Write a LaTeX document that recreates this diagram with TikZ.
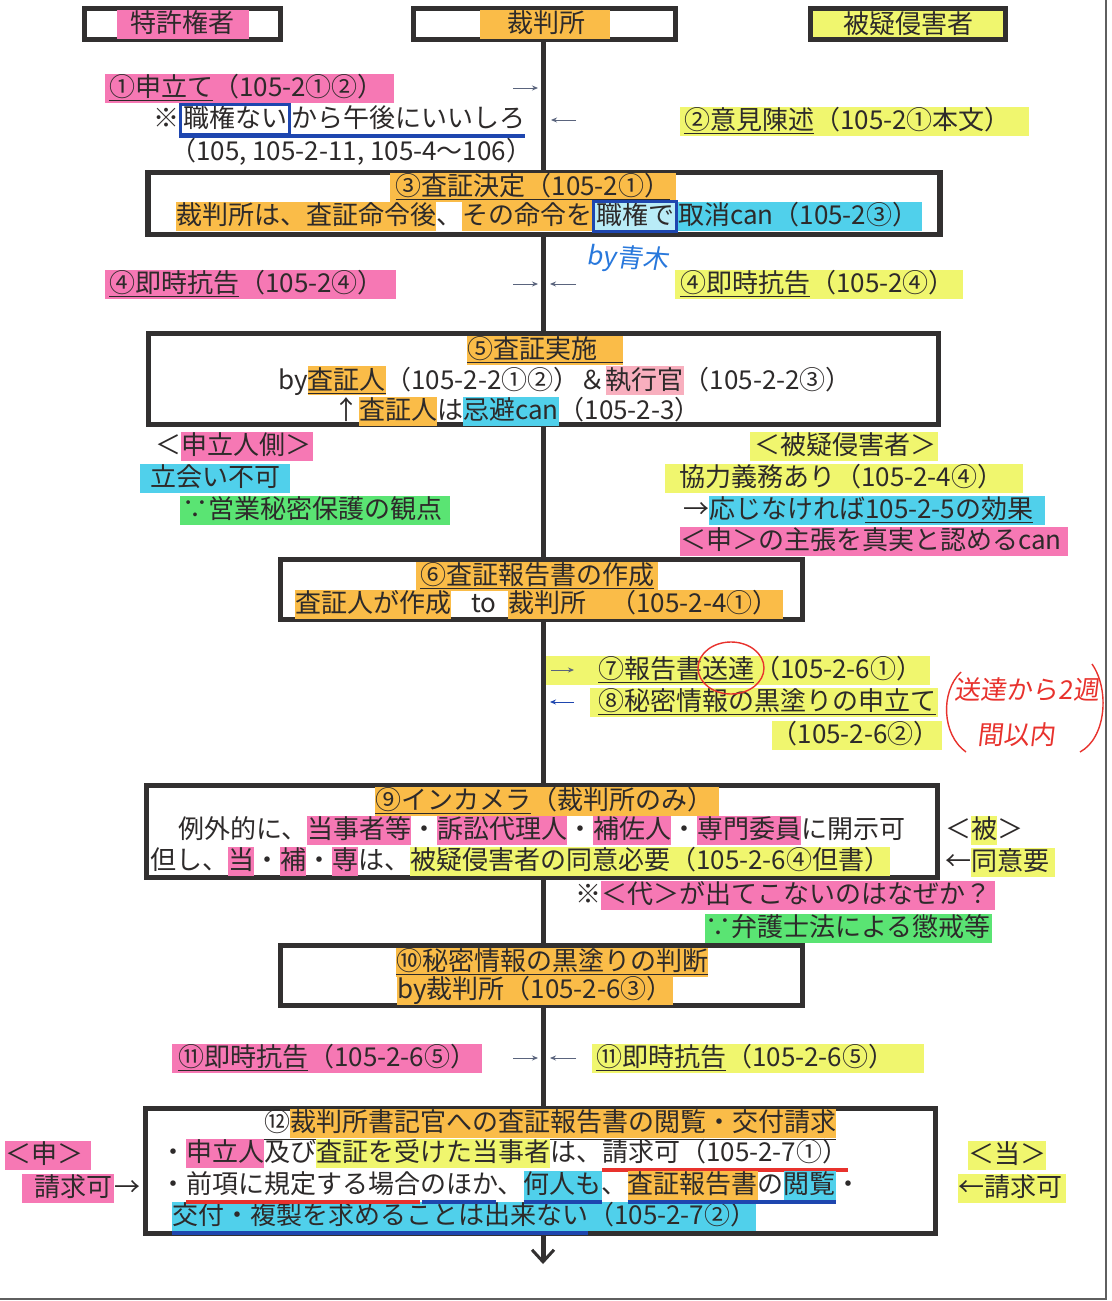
\documentclass[tikz,border=0pt]{standalone}
\usepackage{fontspec}
\setmainfont{Noto Sans CJK JP}
\newfontfamily\handfont[FakeSlant=0.12]{Noto Sans CJK JP}
\usetikzlibrary{arrows.meta}
\definecolor{ink}{RGB}{45,42,42}
\definecolor{boxc}{RGB}{50,48,48}
\definecolor{hlpink}{RGB}{246,120,180}
\definecolor{hlpinkl}{RGB}{248,175,190}
\definecolor{hlorange}{RGB}{250,188,72}
\definecolor{hlyellow}{RGB}{240,246,110}
\definecolor{hlcyan}{RGB}{80,208,235}
\definecolor{hlgreen}{RGB}{90,228,115}
\definecolor{penblue}{RGB}{30,70,175}
\definecolor{penred}{RGB}{232,50,45}
\definecolor{handblue}{RGB}{40,120,220}
\definecolor{tickc}{RGB}{90,100,125}
\definecolor{framec}{RGB}{95,95,95}
\newsavebox\myubox
\newcommand\myfs{\fontsize{26}{30}\selectfont}
\newcommand\myhfs{\handfont\fontsize{26}{30}\selectfont}
\newcommand\hlt[2]{{\setlength\fboxsep{0pt}\colorbox{#1}{\rule[-6pt]{0pt}{29pt}#2}}}
\newcommand\penu[2]{{\sbox\myubox{#2}\rlap{\textcolor{#1}{\rule[-10pt]{\wd\myubox}{3.5pt}}}\usebox\myubox}}
\newcommand\penbox[2][white]{{\setlength\fboxrule{3pt}\setlength\fboxsep{0pt}\color{penblue}\fbox{\colorbox{#1}{\rule[-5pt]{0pt}{27pt}\hspace{1pt}\color{ink}#2\hspace{1pt}}}}}
\begin{document}
\begin{tikzpicture}[x=1pt,y=-1pt,
  box/.style={draw=boxc,line width=5.5pt,inner sep=0pt,fill=white,text=ink,font=\myfs},
  lt/.style={anchor=west,inner sep=0pt,text=ink,font=\myfs},
  rt/.style={anchor=east,inner sep=0pt,text=ink,font=\myfs},
  ct/.style={inner sep=0pt,text=ink,font=\myfs},
  spine/.style={draw=boxc,line width=5pt},
  tick/.style={draw=tickc,line width=0.9pt,-{Stealth[length=6pt,width=5pt]}},
  redpen/.style={draw=penred,line width=1.4pt},
  bluemark/.style={draw=penblue,line width=3.5pt},
  hand/.style={inner sep=0pt,font=\myhfs}]
\fill[white] (0,0) rectangle (1111,1301);
\useasboundingbox (0,0) rectangle (1111,1301);
\draw[framec,line width=1.5pt] (1106,0) -- (1106,1299) -- (0,1299);
\coordinate (sx) at (543,0);

% top boxes
\node[box,minimum width=196pt,minimum height=31pt] (A) at (182.5,24) {\hlt{hlpink}{\hspace{14pt}特許権者\hspace{14pt}}};
\node[box,minimum width=262pt,minimum height=31pt] (B) at (544.5,24) {\hlt{hlorange}{\hspace{28pt}裁判所\hspace{24pt}}};
\node[box,minimum width=195pt,minimum height=31pt,fill=hlyellow] (C) at (908,24) {被疑侵害者};

% row 1-2
\node[lt] (t1) at (105,88) {\hlt{hlpink}{\hspace{4pt}\underline{①申立て}（105-2①②）\hspace{10pt}}};
\node[lt] (t1n) at (153,120) {※\penu{penblue}{\penbox{職権ない}から午後にいいしろ}};
\node[lt] (t1r) at (170,152) {（105, 105-2-11, 105-4～106）};
\node[lt] (t2) at (680,121) {\hlt{hlyellow}{\hspace{4pt}\underline{②意見陳述}（105-2①本文）\hspace{18pt}}};

% box 3
\node[box,minimum width=792pt,minimum height=62pt] (b3) at (544,203.5) {};
\node[ct] (t3h) at (533,187) {\hlt{hlorange}{\hspace{6pt}\underline{③査証決定（105-2①）}\hspace{6pt}}};
\node[lt] (t3) at (176,216) {\hlt{hlorange}{裁判所は、査証命令後}、\hlt{hlorange}{その命令を}\penbox[hlcyan!40]{職権で}\hlt{hlcyan}{取消can（105-2③）\hspace{4pt}}};
\node[hand,text=handblue,rotate=-4] (aoki) at (628,259) {by青木};

% row 4
\node[lt] (t4l) at (105,284) {\hlt{hlpink}{\hspace{4pt}\underline{④即時抗告}（105-2④）\hspace{12pt}}};
\node[lt] (t4r) at (675,284) {\hlt{hlyellow}{\hspace{5pt}\underline{④即時抗告}（105-2④）\hspace{8pt}}};

% box 5
\node[box,minimum width=790pt,minimum height=91pt] (b5) at (543.5,379) {};
\node[ct] (t5h) at (545,350) {\hlt{hlorange}{\underline{⑤査証実施\hspace{26pt}}}};
\node[ct] (t5a) at (565,381) {by\hlt{hlorange}{\underline{査証人}}（105-2-2①②）＆\hlt{hlpinkl}{執行官}（105-2-2③）};
\node[ct] (t5b) at (517,411) {↑\hlt{hlorange}{査証人}は\hlt{hlcyan}{忌避can}（105-2-3）};

% sides below box 5
\node[lt] (s1) at (155,446) {＜\hlt{hlpink}{申立人側＞\hspace{2pt}}};
\node[lt] (s2) at (140,478) {\hlt{hlcyan}{\hspace{10pt}立会い不可\hspace{10pt}}};
\node[lt] (s3) at (180,510) {\hlt{hlgreen}{\hspace{2pt}∵営業秘密保護の観点\hspace{8pt}}};
\node[lt] (s4) at (750,446) {\hlt{hlyellow}{\hspace{4pt}＜被疑侵害者＞\hspace{2pt}}};
\node[lt] (s5) at (665,478) {\hlt{hlyellow}{\hspace{14pt}協力義務あり（105-2-4④）\hspace{20pt}}};
\node[lt] (s6) at (683,510) {→\hlt{hlcyan}{応じなければ\underline{105-2-5の効果}\hspace{12pt}}};
\node[lt] (s7) at (680,541) {\hlt{hlpink}{＜申＞の主張を真実と認めるcan\hspace{6pt}}};

% box 6
\node[box,minimum width=522pt,minimum height=60pt] (b6) at (541.5,589.5) {};
\node[ct] (t6h) at (537,576) {\hlt{hlorange}{\hspace{4pt}\underline{⑥査証報告書の作成}\hspace{4pt}}};
\node[lt] (t6) at (295,604) {\hlt{hlorange}{査証人が作成}\hspace{20pt}to\hspace{12pt}\hlt{hlorange}{裁判所\hspace{24pt}（105-2-4①）\hspace{4pt}}};

% rows 7-8
\node[lt] (t7) at (546,670) {\hlt{hlyellow}{\hspace{52pt}\underline{⑦報告書送達}（105-2-6①）\hspace{8pt}}};
\node[lt] (t8) at (590,702) {\hlt{hlyellow}{\hspace{8pt}\underline{⑧秘密情報の黒塗りの申立て}\hspace{2pt}}};
\node[rt] (t8b) at (942,735) {\hlt{hlyellow}{（105-2-6②）\hspace{2pt}}};
\draw[redpen] (731,668) ellipse [x radius=33pt,y radius=26pt];
\node[hand,text=penred] (h1) at (1027,690) {送達から2週};
\node[hand,text=penred] (h2) at (1016,735) {間以内};
\draw[redpen] (961,672) .. controls (940,692) and (942,735) .. (966,752);
\draw[redpen] (1092,664) .. controls (1110,690) and (1106,738) .. (1080,752);

% box 9
\node[box,minimum width=791pt,minimum height=92pt] (b9) at (542,831.5) {};
\node[ct] (t9h) at (547,801) {\hlt{hlorange}{\underline{⑨インカメラ}（裁判所のみ）\hspace{6pt}}};
\node[lt] (t9a) at (178,830) {例外的に、\hlt{hlpink}{当事者等}・\hlt{hlpink}{訴訟代理人}・\hlt{hlpink}{補佐人}・\hlt{hlpink}{専門委員}に開示可};
\node[lt] (t9b) at (150,861) {但し、\hlt{hlpink}{当}・\hlt{hlpink}{補}・\hlt{hlpink}{専}は、\hlt{hlyellow}{被疑侵害者の同意必要（105-2-6④但書）}};
\node[lt] (t9c) at (945,830) {＜\hlt{hlyellow}{被}＞};
\node[lt] (t9d) at (945,862) {←\hlt{hlyellow}{同意要\hspace{6pt}}};
\node[lt] (t9e) at (575,895) {※\hlt{hlpink}{＜代＞が出てこないのはなぜか？\hspace{4pt}}};
\node[lt] (t9f) at (705,928) {\hlt{hlgreen}{∵弁護士法による懲戒等\hspace{2pt}}};

% box 10
\node[box,minimum width=522pt,minimum height=60pt] (b10) at (541.5,975.5) {};
\node[ct] (t10h) at (552,962) {\hlt{hlorange}{\underline{⑩秘密情報の黒塗りの判断}}};
\node[ct] (t10) at (535,990) {\hlt{hlorange}{by裁判所（105-2-6③）}};

% row 11
\node[lt] (t11l) at (172,1058) {\hlt{hlpink}{\hspace{6pt}\underline{⑪即時抗告}（105-2-6⑤）\hspace{6pt}}};
\node[lt] (t11r) at (592,1058) {\hlt{hlyellow}{\hspace{4pt}\underline{⑪即時抗告}（105-2-6⑤）\hspace{30pt}}};

% box 12
\node[box,minimum width=790pt,minimum height=125pt] (b12) at (540.5,1171) {};
\node[ct] (t12h) at (550,1124) {\underline{⑫\hlt{hlorange}{裁判所書記官への査証報告書の閲覧・交付請求}}};
\node[lt] (t12c) at (172,1218) {\penu{penblue}{\hlt{hlcyan}{交付・複製を求めることは出来ない}}\hlt{hlcyan}{（105-2-7②）}};
\node[lt] (t12a) at (160,1155) {・\hlt{hlpink}{申立人}及び\hlt{hlyellow}{査証を受けた当事者}は、\penu{penred}{請求可（105-2-7①）}};
\node[lt] (t12b) at (160,1187) {・\penu{penred}{前項に規定する場合}のほか、\penu{penblue}{\hlt{hlcyan}{何人も}}、\penu{penblue}{\hlt{hlorange}{査証報告書}の\hlt{hlcyan}{閲覧}}・};
\draw[bluemark] ([xshift=262pt,yshift=-8.25pt]t12b.base west) -- ++(74,0);
\node[lt] (l1) at (5,1155) {\hlt{hlpink}{＜申＞\hspace{8pt}}};
\node[lt] (l2) at (22,1188) {\hlt{hlpink}{\hspace{12pt}請求可\hspace{2pt}}→};
\node[lt] (r1) at (968,1155) {\hlt{hlyellow}{＜当＞}};
\node[lt] (r2) at (958,1188) {\hlt{hlyellow}{←請求可\hspace{4pt}}};

% spine
\coordinate (end) at (543,1264);
\draw[spine] (B.south -| sx) -- (b3.north -| sx);
\draw[spine] (b3.south -| sx) -- (b5.north -| sx);
\draw[spine] (b5.south -| sx) -- (b6.north -| sx);
\draw[spine] (b6.south -| sx) -- (b9.north -| sx);
\draw[spine] (b9.south -| sx) -- (b10.north -| sx);
\draw[spine] (b10.south -| sx) -- (b12.north -| sx);
\draw[spine,-{Straight Barb[length=12pt,width=22pt,line width=3pt]}] (b12.south -| sx) -- (end);

% small ticks pointing at / from the spine
\coordinate (a1s) at (513,88);  \coordinate (a1e) at (538,88);
\coordinate (a2s) at (576,120); \coordinate (a2e) at (551,120);
\coordinate (a4s) at (513,284); \coordinate (a4e) at (538,284);
\coordinate (a5s) at (576,284); \coordinate (a5e) at (550,284);
\coordinate (a7s) at (551,670); \coordinate (a7e) at (574,670);
\coordinate (a8s) at (574,702); \coordinate (a8e) at (550,702);
\coordinate (a11s) at (513,1058); \coordinate (a11e) at (538,1058);
\coordinate (a12s) at (576,1058); \coordinate (a12e) at (550,1058);
\draw[tick] (a1s) -- (a1e);
\draw[tick] (a2s) -- (a2e);
\draw[tick] (a4s) -- (a4e);
\draw[tick] (a5s) -- (a5e);
\draw[tick] (a7s) -- (a7e);
\draw[tick,draw=penblue] (a8s) -- (a8e);
\draw[tick] (a11s) -- (a11e);
\draw[tick] (a12s) -- (a12e);
\end{tikzpicture}
\end{document}
